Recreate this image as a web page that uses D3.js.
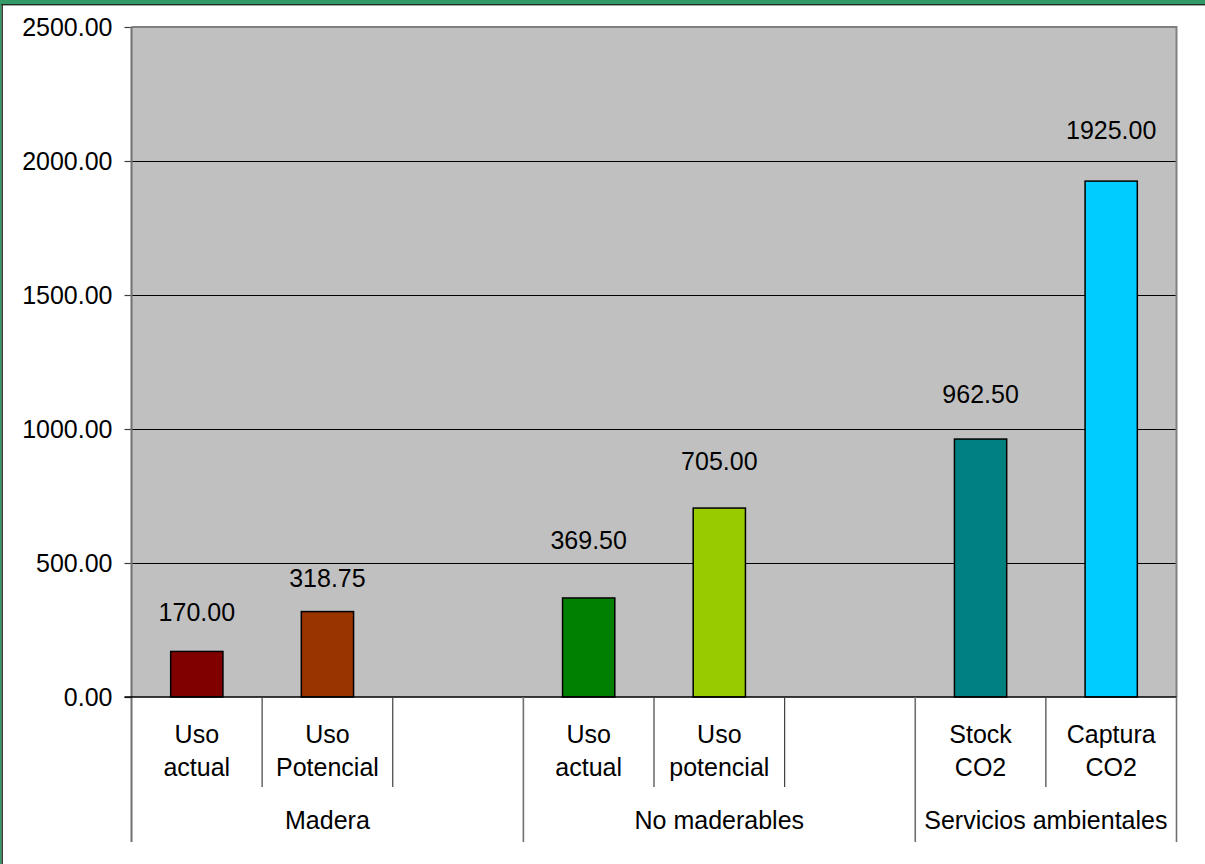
<!DOCTYPE html>
<html>
<head>
<meta charset="utf-8">
<script src="https://cdn.jsdelivr.net/npm/d3@7"></script>
<style>
  html, body { margin: 0; padding: 0; background: #fff; }
  svg { display: block; font-family: "Liberation Sans", Arial, sans-serif; }
</style>
</head>
<body>
<svg id="chart" width="1205" height="864"></svg>
<script>
// Category slots along the x axis (blank slots separate the groups)
const slotIds    = ["m1", "m2", "m3", "n1", "n2", "n3", "s1", "s2"];
const slotLines1 = ["Uso", "Uso", "", "Uso", "Uso", "", "Stock", "Captura"];
const slotLines2 = ["actual", "Potencial", "", "actual", "potencial", "", "CO2", "CO2"];
const values     = [170.00, 318.75, null, 369.50, 705.00, null, 962.50, 1925.00];
const barColors  = ["#800000", "#993300", null, "#008000", "#99CC00", null, "#008080", "#00CCFF"];

// Outer grouping of slots
const groupNames = ["Madera", "No maderables", "Servicios ambientales"];
const groupSizes = [3, 3, 2];

// Value axis
const yTicks = [0, 500, 1000, 1500, 2000, 2500];

// Vertical lift (px) of each value label above its bar
const labelLift = [30, 25, 0, 49, 38, 0, 36, 42];

const svg = d3.select("#chart");
const W = 1205, H = 864;
const plot = { left: 131.5, right: 1176.5, top: 27, bottom: 697 };

// Frame
svg.append("rect").attr("x", 0).attr("y", 0).attr("width", W).attr("height", 4).attr("fill", "#339966");
svg.append("rect").attr("x", 0).attr("y", 4).attr("width", W).attr("height", 1.4).attr("fill", "#1f2a22");
svg.append("rect").attr("x", 0).attr("y", 0).attr("width", 1.5).attr("height", H).attr("fill", "#339966");
svg.append("rect").attr("x", 1.5).attr("y", 4).attr("width", 1.4).attr("height", H).attr("fill", "#1f2a22");

const x = d3.scaleBand().domain(slotIds).range([plot.left, plot.right]).padding(0);
const y = d3.scaleLinear().domain([0, 2500]).range([plot.bottom, plot.top]);

// Plot area
svg.append("rect")
  .attr("x", plot.left).attr("y", plot.top)
  .attr("width", plot.right - plot.left).attr("height", plot.bottom - plot.top)
  .attr("fill", "#C0C0C0");

// Gridlines
svg.append("g").selectAll("line")
  .data(yTicks.filter(t => t > 0 && t < 2500))
  .join("line")
  .attr("x1", plot.left).attr("x2", plot.right)
  .attr("y1", d => Math.round(y(d)) + 0.5).attr("y2", d => Math.round(y(d)) + 0.5)
  .attr("stroke", "#000").attr("stroke-width", 1);

// Plot border (top and right)
svg.append("path")
  .attr("d", `M${plot.left},${plot.top} H${plot.right} V${plot.bottom}`)
  .attr("fill", "none").attr("stroke", "#808080").attr("stroke-width", 2);

// Bars
const bw = x.bandwidth() * 0.4;
const barData = slotIds.map((id, i) => ({ id, v: values[i], c: barColors[i], lift: labelLift[i] }))
  .filter(d => d.v != null);

svg.append("g").selectAll("rect")
  .data(barData)
  .join("rect")
  .attr("x", d => x(d.id) + (x.bandwidth() - bw) / 2)
  .attr("y", d => y(d.v))
  .attr("width", bw)
  .attr("height", d => y(0) - y(d.v))
  .attr("fill", d => d.c)
  .attr("stroke", "#000").attr("stroke-width", 1.5);

// Value labels
svg.append("g").selectAll("text")
  .data(barData)
  .join("text")
  .attr("x", d => x(d.id) + x.bandwidth() / 2)
  .attr("y", d => y(d.v) - d.lift)
  .attr("text-anchor", "middle")
  .attr("font-size", 25)
  .attr("fill", "#000")
  .text(d => d3.format(".2f")(d.v));

// Y axis
const yAxis = d3.axisLeft(y).tickValues(yTicks).tickFormat(d3.format(".2f")).tickSize(7).tickPadding(12);
const gy = svg.append("g").attr("transform", `translate(${plot.left},0)`).call(yAxis);
gy.select(".domain").remove();
gy.selectAll(".tick line").attr("stroke", "#404040").attr("stroke-width", 1.2);
gy.selectAll(".tick text").attr("font-size", 25).attr("fill", "#000")
  .attr("font-family", "'Liberation Sans', Arial, sans-serif");

// Left axis line, extended down to close the category table
svg.append("line")
  .attr("x1", plot.left).attr("x2", plot.left)
  .attr("y1", plot.top).attr("y2", 842)
  .attr("stroke", "#707070").attr("stroke-width", 2);

// Zero line
svg.append("line")
  .attr("x1", plot.left - 7).attr("x2", plot.right)
  .attr("y1", y(0)).attr("y2", y(0))
  .attr("stroke", "#000").attr("stroke-width", 1.5);

// Category separators
const groupStarts = groupSizes.reduce((acc, n, i) => { acc.push(i === 0 ? 0 : acc[i - 1] + groupSizes[i - 1]); return acc; }, []);
const groupEdges = new Set(groupStarts.concat([slotIds.length]));
const sepG = svg.append("g");
for (let k = 1; k <= slotIds.length; k++) {
  const xx = k < slotIds.length ? x(slotIds[k]) : plot.right;
  const isGroup = groupEdges.has(k);
  sepG.append("line")
    .attr("x1", xx).attr("x2", xx)
    .attr("y1", y(0)).attr("y2", isGroup ? 842 : 787)
    .attr("stroke", isGroup ? "#707070" : "#404040").attr("stroke-width", isGroup ? 1.6 : 1.2);
}

// Category labels (two lines)
const catG = svg.append("g").attr("font-size", 25).attr("text-anchor", "middle").attr("fill", "#000");
slotIds.forEach((id, i) => {
  const cx = x(id) + x.bandwidth() / 2;
  if (slotLines1[i]) catG.append("text").attr("x", cx).attr("y", 743).text(slotLines1[i]);
  if (slotLines2[i]) catG.append("text").attr("x", cx).attr("y", 776).text(slotLines2[i]);
});

// Group labels
groupNames.forEach((name, g) => {
  const a = x(slotIds[groupStarts[g]]);
  const endIdx = groupStarts[g] + groupSizes[g];
  const b = endIdx < slotIds.length ? x(slotIds[endIdx]) : plot.right;
  svg.append("text")
    .attr("x", (a + b) / 2).attr("y", 829)
    .attr("text-anchor", "middle").attr("font-size", 25).attr("fill", "#000")
    .text(name);
});
</script>
</body>
</html>
